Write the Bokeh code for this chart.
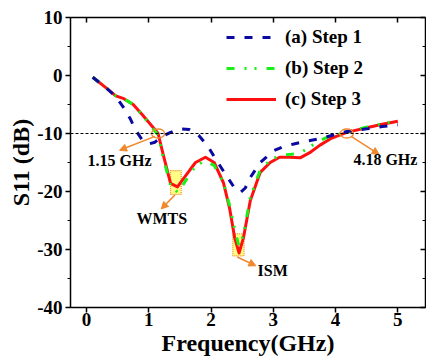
from bokeh.plotting import figure
from bokeh.models import (Range1d, LinearAxis, SingleIntervalTicker, Span, Arrow,
                          NormalHead, Label, Legend, LegendItem, CustomJSTickFormatter)
from bokeh.embed import file_html
from bokeh.resources import INLINE

# ---- data ----
freq_a = [0.1, 0.3, 0.47, 0.6, 0.7, 0.8, 0.9, 1.0, 1.1, 1.2, 1.35, 1.5, 1.65, 1.8,
          1.95, 2.05, 2.23, 2.39, 2.48, 2.55, 2.63, 2.79, 3.0, 3.15, 3.33, 3.54,
          3.75, 3.92, 4.2, 4.5, 4.75, 5.0]
s11_a = [-0.3, -2.0, -3.6, -5.6, -7.4, -9.6, -11.2, -11.8, -11.5, -10.6, -9.8, -9.2,
         -9.3, -10.3, -12.2, -14.0, -17.0, -19.6, -20.1, -19.4, -17.6, -15.0, -13.0,
         -12.3, -11.8, -11.3, -10.9, -10.4, -9.6, -9.2, -8.8, -8.5]

freq_b = [0.1, 0.3, 0.47, 0.6, 0.75, 0.9, 1.05, 1.15, 1.24, 1.35, 1.47, 1.6, 1.75,
          1.9, 2.05, 2.2, 2.3, 2.38, 2.45, 2.52, 2.63, 2.79, 2.95, 3.1, 3.27, 3.43,
          3.6, 3.75, 3.92, 4.18, 4.5, 4.75, 5.0]
s11_b = [-0.3, -2.0, -3.5, -4.0, -5.0, -6.9, -8.9, -10.3, -14.5, -19.0, -20.2, -18.0,
         -15.6, -14.7, -15.5, -18.5, -22.5, -26.5, -29.5, -27.5, -21.0, -16.3, -14.6,
         -13.8, -13.6, -13.4, -12.2, -11.2, -10.4, -9.8, -8.9, -8.3, -7.8]

freq_c = [0.1, 0.3, 0.47, 0.6, 0.75, 0.9, 1.05, 1.15, 1.24, 1.35, 1.46, 1.59, 1.75,
          1.91, 2.05, 2.2, 2.3, 2.38, 2.45, 2.52, 2.63, 2.79, 2.95, 3.1, 3.27, 3.43,
          3.6, 3.75, 3.92, 4.18, 4.5, 4.75, 5.0]
s11_c = [-0.3, -2.0, -3.5, -4.0, -5.0, -6.8, -8.7, -10.0, -14.0, -18.6, -19.2, -17.3,
         -15.0, -14.1, -15.0, -18.5, -23.0, -28.0, -30.6, -28.0, -21.6, -16.7, -15.0,
         -14.1, -14.1, -14.2, -13.2, -12.0, -10.9, -9.8, -9.0, -8.4, -7.9]

series_labels = ["(a) Step 1", "(b) Step 2", "(c) Step 3"]

threshold_db = -10
marked_freqs = [1.15, 4.18]
marked_texts = ["1.15 GHz", "4.18 GHz"]
band_names = ["WMTS", "ISM"]
band_left = [1.35, 2.35]
band_right = [1.52, 2.53]
band_top = [-16.4, -27.3]
band_bottom = [-20.5, -31.1]

x_ticks_interval = 1
y_ticks_interval = 10

# ---- styling ----
FONT = "Liberation Serif"
ORANGE = "#F0882E"
BLUE = "#0A0AA0"
GREEN = "#18F018"
RED = "#FF1010"

p = figure(width=426, height=362, output_backend="svg", toolbar_location=None,
           x_range=Range1d(-0.257, 5.444), y_range=Range1d(-40, 10),
           x_axis_location=None, y_axis_location=None,
           min_border_left=70, min_border_right=1, min_border_top=17,
           min_border_bottom=55)
p.outline_line_color = None
p.xgrid.visible = False
p.ygrid.visible = False
p.background_fill_color = "white"
p.border_fill_color = "white"

plain_fmt = CustomJSTickFormatter(code="return tick.toFixed(0);")
blank_fmt = CustomJSTickFormatter(code="return '';")


def style_axis(ax, show_labels, tick_out, minor):
    ax.axis_line_width = 1.5
    ax.axis_line_color = "black"
    ax.major_tick_line_width = 1.5
    ax.minor_tick_line_width = 1.2
    ax.major_tick_line_color = "black"
    ax.minor_tick_line_color = "black" if minor else None
    if tick_out:
        ax.major_tick_out = 5
        ax.major_tick_in = 0
        ax.minor_tick_out = 3
        ax.minor_tick_in = 0
    else:
        ax.major_tick_out = 0
        ax.major_tick_in = 5
        ax.minor_tick_out = 0
        ax.minor_tick_in = 3
    ax.major_label_text_font = FONT
    ax.major_label_text_font_style = "bold"
    ax.major_label_text_color = "black"
    ax.major_label_text_font_size = "19px"
    if show_labels:
        ax.formatter = plain_fmt
        ax.axis_label_text_font = FONT
        ax.axis_label_text_font_style = "bold"
        ax.axis_label_text_font_size = "24px"
        ax.axis_label_text_color = "black"
    else:
        ax.formatter = blank_fmt
        ax.major_label_standoff = 0


xb = LinearAxis(ticker=SingleIntervalTicker(interval=x_ticks_interval, num_minor_ticks=2),
                axis_label="Frequency(GHz)")
style_axis(xb, True, True, False)
xb.major_label_standoff = 0
xb.axis_label_standoff = 1
p.add_layout(xb, "below")

xt = LinearAxis(ticker=SingleIntervalTicker(interval=x_ticks_interval, num_minor_ticks=2))
style_axis(xt, False, False, False)
p.add_layout(xt, "above")

yl = LinearAxis(ticker=SingleIntervalTicker(interval=y_ticks_interval, num_minor_ticks=2),
                axis_label="S11 (dB)")
style_axis(yl, True, True, True)
yl.major_label_standoff = 3
yl.axis_label_standoff = 0
p.add_layout(yl, "left")

yr = LinearAxis(ticker=SingleIntervalTicker(interval=y_ticks_interval, num_minor_ticks=2))
style_axis(yr, False, False, True)
p.add_layout(yr, "right")

# -10 dB reference
p.add_layout(Span(location=threshold_db, dimension="width", line_color="black",
                  line_width=1, line_dash="3 2"))

# band boxes
p.quad(left=band_left, right=band_right, top=band_top, bottom=band_bottom,
       fill_color="#FFFF70", fill_alpha=0.85, line_color=ORANGE, line_width=1.2,
       line_dash="1 1")

# curves
r_c = p.line(freq_c, s11_c, line_color=RED, line_width=3, line_join="round")
r_b = p.line(freq_b, s11_b, line_color=GREEN, line_width=3, line_dash="8 10 2 8 2 10",
             line_join="round")
r_a = p.line(freq_a, s11_a, line_color=BLUE, line_width=3, line_dash="8 10",
             line_join="round")

# marker ellipses at the -10 dB crossings
p.ellipse(x=marked_freqs, y=[threshold_db] * len(marked_freqs), width=13, height=9,
          width_units="screen", height_units="screen", fill_color=None,
          line_color=ORANGE, line_width=1.3)

# arrows
arrow_x0 = [1.1, 1.42, 2.42, 4.25]
arrow_y0 = [-10.5, -20.6, -31.3, -10.5]
arrow_x1 = [0.53, 1.2, 2.72, 4.7]
arrow_y1 = [-12.9, -23.0, -32.8, -13.6]
for xs, ys, xe, ye in zip(arrow_x0, arrow_y0, arrow_x1, arrow_y1):
    p.add_layout(Arrow(x_start=xs, y_start=ys, x_end=xe, y_end=ye,
                       line_color=ORANGE, line_width=1.5,
                       end=NormalHead(size=7, fill_color=ORANGE, line_color=ORANGE)))

# annotation texts
label_x = [0.53, 4.8, 1.21, 2.99]
label_y = [-14.7, -14.5, -24.6, -33.6]
label_txt = marked_texts + band_names
for lx, ly, lt in zip(label_x, label_y, label_txt):
    p.add_layout(Label(x=lx, y=ly, text=lt, text_font=FONT, text_font_style="bold",
                       text_font_size="16px", text_align="center",
                       text_baseline="middle", text_color="black"))

legend = Legend(items=[LegendItem(label=series_labels[0], renderers=[r_a]),
                       LegendItem(label=series_labels[1], renderers=[r_b]),
                       LegendItem(label=series_labels[2], renderers=[r_c])],
                location=(156, 197))
legend.label_text_font = FONT
legend.label_text_font_style = "bold"
legend.label_text_font_size = "19px"
legend.label_text_color = "black"
legend.glyph_width = 50
legend.glyph_height = 20
legend.label_height = 20
legend.label_standoff = 9
legend.spacing = 9
legend.padding = 0
legend.margin = 0
legend.background_fill_alpha = 0
legend.border_line_color = None
p.add_layout(legend)

open("out.html", "w").write(file_html(p, INLINE))
